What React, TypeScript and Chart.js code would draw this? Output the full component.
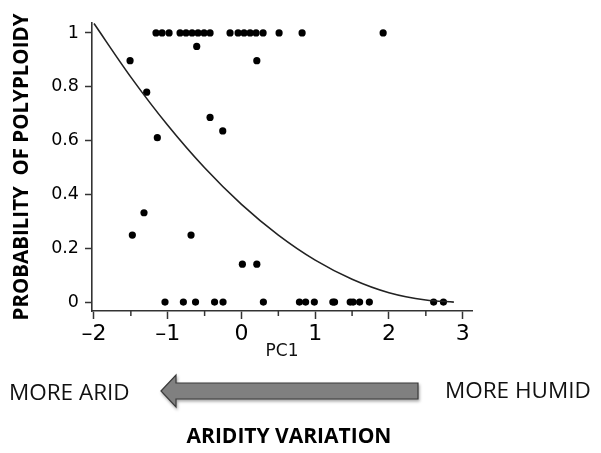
import React, { useEffect, useRef } from 'react';
import { Chart, registerables } from 'chart.js';

Chart.register(...registerables);

// Observations at probability 1 (PC1 values)
const topRowPC1 = [-1.159, -1.077, -0.982, -0.833, -0.752, -0.670, -0.589, -0.507, -0.426, -0.155, -0.046, 0.035, 0.117, 0.198, 0.293, 0.510, 0.822, 1.921];
// Observations with intermediate probability
const midPC1 = [-1.511, -0.607, 0.208, -1.285, -0.426, -0.254, -1.141, -1.322, -1.480, -0.684, 0.012, 0.208];
const midProb = [0.897, 0.950, 0.897, 0.780, 0.686, 0.636, 0.611, 0.332, 0.249, 0.249, 0.141, 0.141];
// Observations at probability 0
const bottomRowPC1 = [-1.037, -0.788, -0.623, -0.365, -0.250, 0.297, 0.786, 0.870, 0.988, 1.239, 1.262, 1.474, 1.514, 1.602, 1.734, 2.606, 2.739];
// Fitted curve
const curvePC1 = [-2.0, -1.5, -1.0, -0.5, 0.0, 0.5, 1.0, 1.5, 2.0, 2.5, 2.88];
const curveProb = [1.035, 0.836, 0.657, 0.499, 0.363, 0.249, 0.156, 0.085, 0.035, 0.008, 0.0];

const xTickValues = [-2, -1.5, -1, -0.5, 0, 0.5, 1, 1.5, 2, 2.5, 3];
const xTickLabels = ['\u20132', '', '\u20131', '', '0', '', '1', '', '2', '', '3'];
const yTickValues = [0, 0.2, 0.4, 0.6, 0.8, 1];
const yTickLabels = ['0', '0.2', '0.4', '0.6', '0.8', '1'];

const xTitle = 'PC1';
const yTitle = 'PROBABILITY  OF POLYPLOIDY';
const leftLabel = 'MORE ARID';
const rightLabel = 'MORE HUMID';
const bottomTitle = 'ARIDITY VARIATION';

export default function App() {
  const canvasRef = useRef<HTMLCanvasElement | null>(null);

  useEffect(() => {
    if (!canvasRef.current) return;
    const minorTicks = {
      id: 'minorTicks',
      afterDraw(chart: any) {
        const xs = chart.scales.x;
        const ctx = chart.ctx;
        const bottom = chart.chartArea.bottom;
        ctx.save();
        ctx.strokeStyle = '#333';
        ctx.lineWidth = 1.5;
        xTickValues.forEach((v, i) => {
          if (xTickLabels[i] !== '') return;
          const px = xs.getPixelForValue(v);
          ctx.beginPath();
          ctx.moveTo(px, bottom);
          ctx.lineTo(px, bottom + 5);
          ctx.stroke();
        });
        ctx.restore();
      },
    };

    const points = [
      ...topRowPC1.map((x) => ({ x, y: 1 })),
      ...midPC1.map((x, i) => ({ x, y: midProb[i] })),
      ...bottomRowPC1.map((x) => ({ x, y: 0 })),
    ];

    const chart = new Chart(canvasRef.current, {
      type: 'scatter',
      data: {
        datasets: [
          {
            type: 'line',
            data: curvePC1.map((x, i) => ({ x, y: curveProb[i] })),
            borderColor: '#222',
            borderWidth: 1.6,
            pointRadius: 0,
            fill: false,
            cubicInterpolationMode: 'monotone',
          } as any,
          {
            data: points,
            backgroundColor: '#000',
            borderWidth: 0,
            pointRadius: 3.6,
          },
        ],
      },
      options: {
        animation: false,
        responsive: true,
        maintainAspectRatio: false,
        layout: { padding: { left: 0, right: 129, top: 23, bottom: 82 } },
        plugins: { legend: { display: false }, tooltip: { enabled: false } },
        scales: {
          x: {
            type: 'linear',
            min: -2.027,
            max: 3.126,
            afterFit: (s: any) => { s.height = 60; },
            afterBuildTicks: (s: any) => { s.ticks = xTickValues.map((v) => ({ value: v })); },
            border: { color: '#333', width: 1.6 },
            grid: {
              drawOnChartArea: false,
              tickLength: 8,
              tickWidth: 1.5,
              tickColor: (c: any) => (xTickLabels[c.index] === '' ? 'rgba(0,0,0,0)' : '#333'),
            },
            ticks: {
              autoSkip: false,
              maxRotation: 0,
              padding: 2,
              color: '#000',
              font: { family: 'DejaVu Sans', size: 22 },
              callback: (_v: any, i: number) => xTickLabels[i],
            },
            title: {
              display: true,
              text: xTitle,
              color: '#111',
              font: { family: 'DejaVu Sans', size: 17 },
              padding: { top: 0, bottom: 9 },
            },
          },
          y: {
            type: 'linear',
            min: -0.033,
            max: 1.037,
            afterFit: (s: any) => { s.width = 92; },
            afterBuildTicks: (s: any) => { s.ticks = yTickValues.map((v) => ({ value: v })); },
            border: { color: '#333', width: 1.6 },
            grid: {
              drawOnChartArea: false,
              tickLength: 7,
              tickWidth: 1.5,
              tickColor: '#333',
            },
            ticks: {
              autoSkip: false,
              padding: 6,
              color: '#000',
              font: { family: 'DejaVu Sans', size: 17.5 },
              callback: (_v: any, i: number) => yTickLabels[i],
            },
            title: {
              display: true,
              text: yTitle,
              color: '#000',
              font: { family: 'Open Sans', size: 20.5, weight: 'bold' },
              padding: { top: 10, bottom: 0 },
            },
          },
        },
      },
      plugins: [minorTicks],
    });
    return () => chart.destroy();
  }, []);

  const textBase: React.CSSProperties = {
    position: 'absolute',
    fontFamily: '"Open Sans", sans-serif',
    color: '#111',
    lineHeight: '1',
    whiteSpace: 'pre',
  };

  return (
    <div style={{ position: 'fixed', left: 0, top: 0, width: 601, height: 453, background: '#fff', overflow: 'hidden' }}>
      <div style={{ position: 'absolute', left: 0, top: 0, width: 601, height: 453 }}>
        <canvas ref={canvasRef} />
      </div>
      <div style={{ ...textBase, left: 9, top: 381, fontSize: 22.5 }}>{leftLabel}</div>
      <div style={{ ...textBase, left: 445, top: 379, fontSize: 22.5 }}>{rightLabel}</div>
      <div style={{ ...textBase, left: 289, top: 425, fontSize: 21, fontWeight: 700, transform: 'translateX(-50%)', color: '#000' }}>{bottomTitle}</div>
      <svg width={601} height={453} style={{ position: 'absolute', left: 0, top: 0, filter: 'drop-shadow(1px 2px 1.5px rgba(0,0,0,0.35))' }}>
        <polygon
          points="161,391 176,375 176,383 418,383 418,399 176,399 176,407"
          fill="#808080"
          stroke="#3a3a3a"
          strokeWidth={1.2}
          strokeLinejoin="miter"
        />
      </svg>
    </div>
  );
}
